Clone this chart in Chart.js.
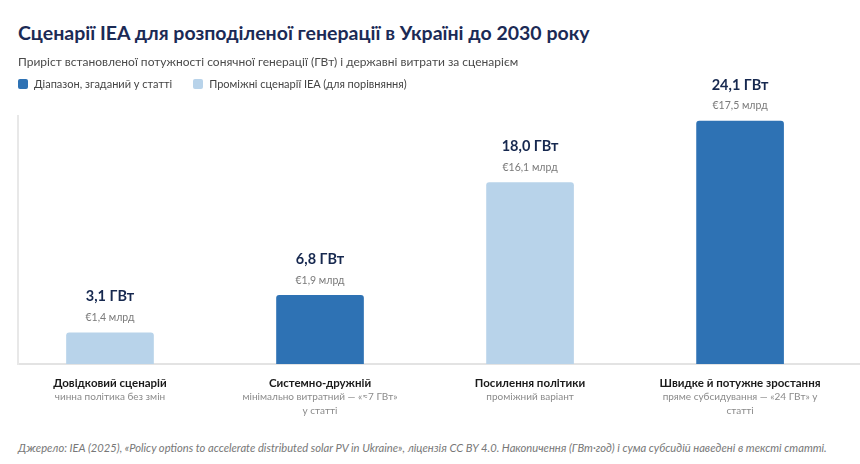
<!DOCTYPE html>
<html><head><meta charset="utf-8">
<script src="https://cdn.jsdelivr.net/npm/chart.js@4.4.1/dist/chart.umd.min.js"></script>
<style>
html,body{margin:0;padding:0;background:#fff;width:860px;height:464px;overflow:hidden;font-family:Lato,"Noto Sans",sans-serif;}
#title{position:absolute;left:18px;top:21px;font-size:19.5px;font-weight:700;color:#1b2a55;white-space:nowrap;z-index:2;}
#sub{position:absolute;left:18px;top:54px;font-size:12px;color:#4a4a4a;white-space:nowrap;z-index:2;}
#legend{position:absolute;left:18px;top:77px;font-size:11px;color:#444;white-space:nowrap;display:flex;align-items:center;z-index:2;}
#legend span.sw{display:inline-block;width:10px;height:10px;border-radius:2px;margin-right:6px;}
#legend span.it{display:inline-flex;align-items:center;margin-right:21px;}
#wrap{position:absolute;left:0;top:60px;width:860px;height:365px;z-index:1;}
#foot{position:absolute;left:18px;top:441px;font-size:11.2px;font-style:italic;color:#777;white-space:nowrap;}
</style></head>
<body>
<div id="title">Сценарії IEA для розподіленої генерації в Україні до 2030 року</div>
<div id="sub">Приріст встановленої потужності сонячної генерації (ГВт) і державні витрати за сценарієм</div>
<div id="legend"></div>
<div id="wrap"><canvas id="c"></canvas></div>
<div id="foot">Джерело: IEA (2025), «Policy options to accelerate distributed solar PV in Ukraine», ліцензія CC BY 4.0. Накопичення (ГВт·год) і сума субсидій наведені в тексті статті.</div>
<script>
// ---- data ----
const categories = ["Довідковий сценарій", "Системно-дружній", "Посилення політики", "Швидке й потужне зростання"];
const subLabels = [["чинна політика без змін"], ["мінімально витратний — «≈7 ГВт»", "у статті"], ["проміжний варіант"], ["пряме субсидування — «24 ГВт» у", "статті"]];
const capacityGW = [3.1, 6.8, 18.0, 24.1];
const spendingEurBn = [1.4, 1.9, 16.1, 17.5];
const seriesOf = [1, 0, 1, 0]; // 0 = range in article, 1 = intermediate IEA scenarios
const seriesNames = ["Діапазон, згаданий у статті", "Проміжні сценарії IEA (для порівняння)"];
const seriesColors = ["#2e72b4", "#b8d3ea"];

// legend (HTML)
const lg = document.getElementById('legend');
seriesNames.forEach((n, i) => {
  const it = document.createElement('span'); it.className = 'it';
  it.innerHTML = '<span class="sw" style="background:' + seriesColors[i] + '"></span>' + n;
  lg.appendChild(it);
});

const fmt = v => v.toFixed(1).replace('.', ',');

const labelPlugin = {
  id: 'labels',
  afterDatasetsDraw(chart) {
    const ctx = chart.ctx;
    const meta = chart.getDatasetMeta(0);
    const xs = chart.scales.x;
    const area = chart.chartArea;
    ctx.save();
    ctx.textAlign = 'center';
    ctx.textBaseline = 'middle';
    meta.data.forEach((bar, i) => {
      ctx.fillStyle = '#16284f';
      ctx.font = 'bold 14.5px Lato';
      ctx.fillText(fmt(capacityGW[i]) + ' ГВт', bar.x, bar.y - 36);
      ctx.fillStyle = '#7a7a7a';
      ctx.font = '10.5px Lato';
      ctx.fillText('€' + fmt(spendingEurBn[i]) + ' млрд', bar.x, bar.y - 15);
    });
    categories.forEach((c, i) => {
      const x = xs.getPixelForValue(i);
      ctx.fillStyle = '#1a1a1a';
      ctx.font = 'bold 11.5px Lato';
      ctx.fillText(c, x, area.bottom + 19);
      ctx.fillStyle = '#8a8a8a';
      ctx.font = '10px Lato';
      subLabels[i].forEach((l, k) => ctx.fillText(l, x, area.bottom + 33 + k * 13.5));
    });
    ctx.restore();
  }
};

new Chart(document.getElementById('c'), {
  type: 'bar',
  data: {
    datasets: [{
      data: capacityGW.map((v, i) => ({ x: i, y: v })),
      backgroundColor: seriesOf.map(s => seriesColors[s]),
      borderRadius: { topLeft: 3, topRight: 3 },
      borderSkipped: 'bottom',
      barThickness: 87
    }]
  },
  options: {
    responsive: true,
    maintainAspectRatio: false,
    animation: false,
    layout: { padding: { left: 18, right: 0, top: 56, bottom: 61 } },
    plugins: { legend: { display: false }, tooltip: { enabled: false } },
    scales: {
      x: {
        type: 'linear', min: -0.438, max: 3.571, offset: false,
        grid: { display: false },
        ticks: { display: false },
        border: { display: true, color: '#e3e3e3', width: 2 },
        afterFit: s => { s.height = 0; }
      },
      y: {
        min: 0, max: 24.6,
        grid: { display: false },
        ticks: { display: false },
        border: { display: true, color: '#e8e8e8', width: 2 },
        afterFit: s => { s.width = 0; }
      }
    }
  },
  plugins: [labelPlugin]
});
</script>
</body></html>
